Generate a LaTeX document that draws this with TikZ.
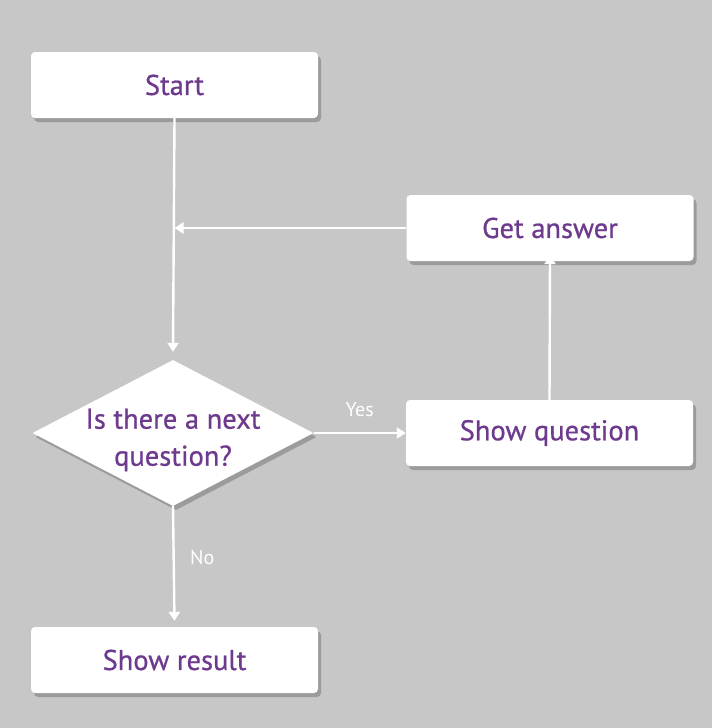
\documentclass[tikz,border=0pt]{standalone}
\usepackage{fontspec}
\setmainfont{PT Sans}
\newfontfamily\boxfont[FakeBold=0.7]{PT Sans}
\usetikzlibrary{shapes.geometric,shadows,arrows.meta}
\definecolor{BgGrey}{HTML}{C7C7C7}
\definecolor{TextPurple}{HTML}{6E3A8E}
\begin{document}
\begin{tikzpicture}[x=1pt,y=-1pt]
\fill[BgGrey] (0,0) rectangle (712,728);

\tikzset{BoxStyle/.style = {
 shape = rectangle,
 rounded corners = 4pt,
 fill = white,
 text = TextPurple,
 minimum width = 287pt,
 minimum height = 66pt,
 inner sep = 0pt,
 font = \boxfont\fontsize{28.5}{33}\selectfont,
 drop shadow = {shadow xshift=3pt, shadow yshift=-4pt, fill=black, opacity=0.22}} }

\tikzset{DecisionStyle/.style = {
 shape = diamond,
 shape aspect = 1.92,
 fill = white,
 text = TextPurple,
 minimum width = 281pt,
 minimum height = 146pt,
 inner sep = 0pt,
 font = \boxfont\fontsize{28.5}{37}\selectfont,
 drop shadow = {shadow xshift=3pt, shadow yshift=-4pt, fill=black, opacity=0.22}} }

\node[BoxStyle] (Start) at (174.5, 85) {\raisebox{-2pt}{Start}};
\node[BoxStyle] (GetAnswer) at (550, 228) {\raisebox{-2pt}{Get answer}};
\node[DecisionStyle] (NextQ) at (173, 433)
 {\raisebox{-13pt}[0pt][0pt]{\begin{tabular}{@{}c@{}}Is there a next\\question?\end{tabular}}};
\node[BoxStyle] (ShowQ) at (549.5, 433) {\raisebox{-2pt}{Show question}};
\node[BoxStyle] (ShowResult) at (174.5, 660) {\raisebox{-2pt}{Show result}};

\coordinate (Join) at (Start.south |- GetAnswer.west);

\tikzset{ArrowStyle/.style = {draw=white, line width=2.4pt, -{Triangle[length=9pt,width=11pt]}} }
\tikzset{LabelStyle/.style = {text=white, font=\fontsize{20}{22}\selectfont} }

\draw[ArrowStyle] (Start.south) -- ([yshift=8pt]NextQ.north);
\draw[ArrowStyle] (GetAnswer.west) -- (Join);
\draw[ArrowStyle] (NextQ.east) -- node[LabelStyle, above, yshift=12pt] {Yes} (ShowQ.west);
\draw[ArrowStyle] (ShowQ.north) -- ([yshift=6pt]GetAnswer.south);
\draw[ArrowStyle] (NextQ.south) -- node[LabelStyle, pos=0.45, right, xshift=12pt] {No} ([yshift=6pt]ShowResult.north);

\end{tikzpicture}
\end{document}
